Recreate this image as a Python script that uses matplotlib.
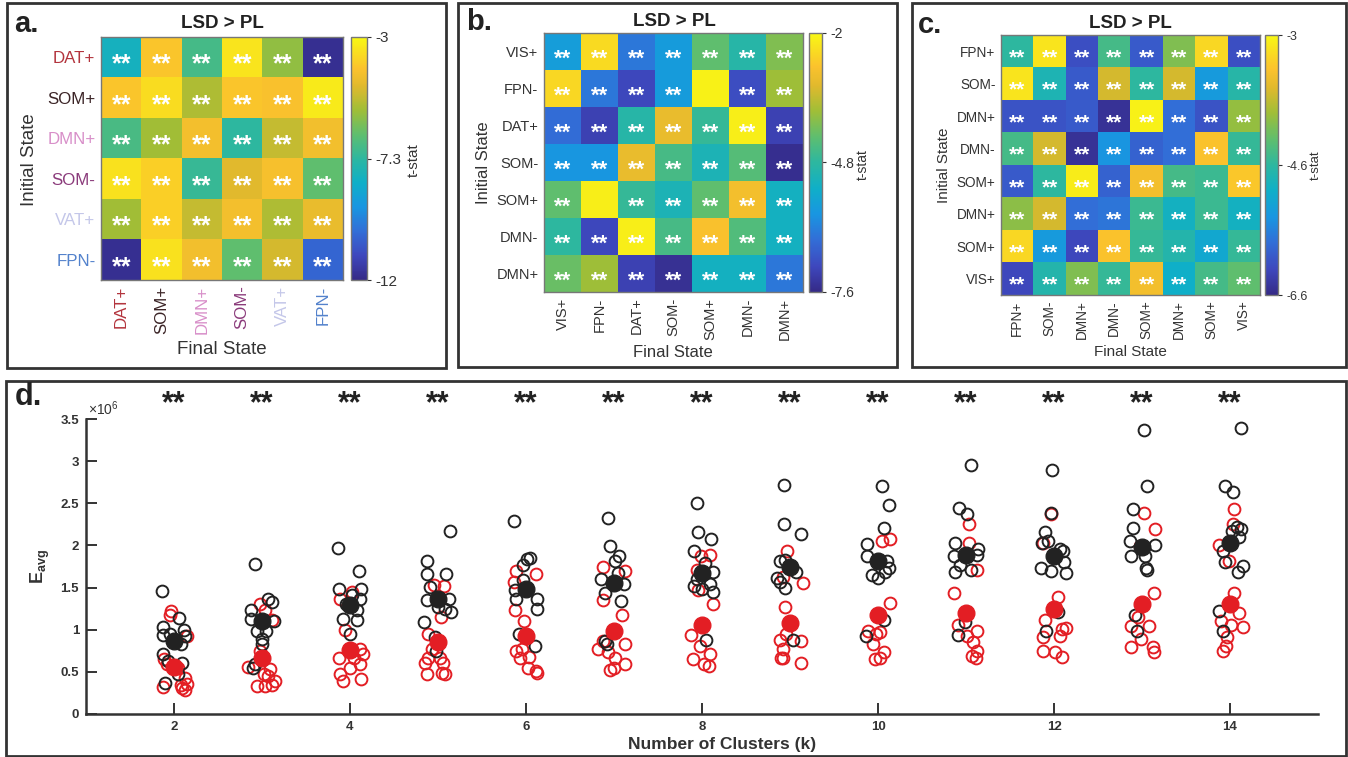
import matplotlib
matplotlib.use('Agg')
import matplotlib.pyplot as plt
import numpy as np
from matplotlib.colors import LinearSegmentedColormap
from matplotlib.patches import Rectangle
from matplotlib.transforms import blended_transform_factory

W, H = 1348, 757
plt.rcParams['font.family'] = ['Liberation Sans', 'DejaVu Sans']
plt.rcParams['mathtext.fontset'] = 'custom'
plt.rcParams['mathtext.rm'] = 'Liberation Sans'
plt.rcParams['mathtext.bf'] = 'Liberation Sans:bold'

# parula-like map, matched to the colours seen in the figure
parula_stops = [0.0, 0.1, 0.2, 0.3, 0.4, 0.5, 0.6, 0.7, 0.8, 0.87, 1.0]
parula_rgb = ['#352a87', '#3e48be', '#326ed7', '#1996e1', '#0fafc8', '#2db7a0',
              '#5fbe6e', '#a0be37', '#e1b92d', '#fbc22d', '#f8f814']
parula = LinearSegmentedColormap.from_list('parula', list(zip(parula_stops, parula_rgb)))

# ---- panel a ----
a_labels = ['DAT+', 'SOM+', 'DMN+', 'SOM-', 'VAT+', 'FPN-']
a_label_colors = ['#b3343d', '#3b2426', '#d88fc9', '#8b3b7b', '#c4c7e9', '#5382cc']
a_tstat = [
    [-8.2, -4.1, -7.05, -3.45, -5.9, -11.8],
    [-4.1, -3.6, -5.5, -4.1, -4.2, -3.3],
    [-7.0, -5.7, -4.35, -7.5, -5.2, -4.4],
    [-3.5, -3.9, -7.3, -4.8, -4.3, -6.6],
    [-5.7, -3.9, -5.2, -4.35, -5.5, -4.6],
    [-11.8, -3.5, -4.4, -6.6, -5.0, -10.4],
]
a_cbar_labels = ['-12', '-7.3', '-3']

# ---- panel b ----
b_labels = ['VIS+', 'FPN-', 'DAT+', 'SOM-', 'SOM+', 'DMN-', 'DMN+']
b_tstat = [
    [-5.75, -2.4, -6.35, -5.8, -4.25, -4.9, -3.95],
    [-2.45, -6.35, -7.05, -5.8, -2.1, -6.95, -3.7],
    [-6.5, -7.15, -4.9, -3.0, -4.7, -2.15, -7.15],
    [-5.9, -5.9, -3.0, -4.5, -5.1, -4.35, -7.5],
    [-4.25, -2.15, -4.7, -5.1, -4.25, -2.85, -5.25],
    [-4.8, -7.05, -2.15, -4.5, -2.75, -4.4, -5.25],
    [-4.15, -3.7, -7.15, -7.45, -5.25, -5.25, -6.35],
]
b_nostar = [(1, 4), (4, 1)]
b_cbar_labels = ['-7.6', '-4.8', '-2']

# ---- panel c ----
c_labels = ['FPN+', 'SOM-', 'DMN+', 'DMN-', 'SOM+', 'DMN+', 'SOM+', 'VIS+']
c_tstat = [
    [-4.8, -3.18, -6.17, -4.62, -6.06, -4.26, -3.29, -6.17],
    [-3.18, -4.98, -6.06, -3.79, -4.8, -3.79, -5.45, -4.87],
    [-6.13, -6.13, -6.06, -6.49, -3.07, -5.88, -6.13, -4.15],
    [-4.62, -3.79, -6.49, -5.52, -5.99, -5.88, -3.47, -4.73],
    [-6.06, -4.8, -3.11, -5.99, -3.54, -4.62, -4.69, -3.43],
    [-4.19, -3.79, -5.88, -5.81, -4.69, -5.09, -4.69, -5.09],
    [-3.29, -5.45, -6.24, -3.47, -4.73, -4.91, -5.27, -4.73],
    [-6.24, -4.91, -4.26, -4.73, -3.54, -5.16, -4.62, -4.44],
]
c_cbar_labels = ['-6.6', '-4.6', '-3']

# ---- panel d (values in units of 1e6) ----
k_values = [2, 3, 4, 5, 6, 7, 8, 9, 10, 11, 12, 13, 14]
black_y = [
    [1.46, 1.14, 1.03, 0.94, 1.00, 0.93, 0.83, 0.71, 0.63, 0.61, 0.47, 0.37, 0.95],
    [1.78, 1.36, 1.33, 1.23, 1.13, 1.10, 0.99, 0.98, 0.89, 0.83, 0.59, 0.55],
    [1.97, 1.70, 1.48, 1.48, 1.37, 1.41, 1.13, 1.11, 0.95, 1.23, 1.31],
    [2.17, 1.82, 1.66, 1.66, 1.51, 1.35, 1.36, 1.25, 1.21, 1.09, 0.91, 0.75, 1.27],
    [2.29, 1.84, 1.85, 1.77, 1.59, 1.47, 1.36, 1.36, 1.24, 0.95, 0.81],
    [2.32, 1.99, 1.87, 1.81, 1.67, 1.60, 1.54, 1.43, 1.34, 0.87, 0.83],
    [2.50, 2.16, 2.08, 1.93, 1.79, 1.68, 1.54, 1.52, 1.48, 1.45, 0.88, 1.60],
    [2.72, 2.25, 2.14, 1.82, 1.83, 1.68, 1.61, 1.57, 1.50, 0.88],
    [2.70, 2.48, 2.21, 2.02, 1.87, 1.82, 1.73, 1.65, 1.61, 1.69, 1.12, 0.93],
    [2.96, 2.45, 2.37, 2.03, 1.96, 1.88, 1.89, 1.77, 1.69, 1.71, 1.09, 0.94],
    [2.89, 2.38, 2.16, 2.03, 2.05, 1.96, 1.93, 1.73, 1.70, 1.80, 1.67, 1.21, 0.98],
    [3.37, 2.70, 2.43, 2.21, 2.05, 2.00, 1.88, 1.87, 1.73, 1.71, 1.17, 0.99],
    [3.39, 2.71, 2.63, 2.22, 2.19, 2.17, 2.10, 1.93, 1.80, 1.76, 1.68, 1.22, 0.99],
]
black_dx = [
    [-0.14, 0.06, -0.13, -0.12, 0.11, 0.12, 0.08, -0.13, -0.07, 0.09, 0.04, -0.10, -0.04],
    [-0.08, 0.07, 0.11, -0.12, -0.12, 0.14, -0.06, 0.05, 0.00, 0.00, -0.08, -0.10],
    [-0.14, 0.10, -0.13, 0.13, 0.11, 0.02, -0.08, 0.08, 0.00, 0.08, -0.04],
    [0.14, -0.13, -0.12, 0.09, -0.09, -0.13, 0.12, 0.08, 0.15, -0.16, -0.03, -0.02, 0.00],
    [-0.14, 0.01, 0.05, -0.03, -0.03, -0.12, -0.11, 0.13, 0.12, -0.08, 0.10],
    [-0.07, -0.05, 0.06, 0.01, 0.04, -0.15, 0.11, -0.10, 0.08, -0.10, -0.08],
    [-0.06, -0.04, 0.10, -0.09, 0.03, 0.12, 0.09, -0.09, 0.00, 0.13, 0.05, -0.06],
    [-0.07, -0.07, 0.13, -0.11, -0.06, 0.07, -0.15, -0.11, -0.06, 0.03],
    [0.05, 0.12, 0.07, -0.12, -0.13, 0.10, 0.13, -0.07, 0.00, 0.08, 0.07, -0.14],
    [0.06, -0.08, 0.01, -0.13, 0.14, -0.14, 0.12, -0.07, -0.13, 0.06, -0.01, -0.09],
    [-0.02, -0.03, -0.10, -0.14, -0.07, 0.07, 0.10, -0.15, -0.03, 0.11, 0.14, 0.04, -0.09],
    [0.02, 0.06, -0.10, -0.10, -0.14, 0.15, -0.12, 0.03, 0.04, 0.06, -0.08, -0.06],
    [0.12, -0.06, 0.03, 0.08, 0.13, 0.02, 0.10, -0.08, -0.06, 0.15, 0.09, -0.13, -0.08],
]
red_y = [
    [1.22, 1.17, 0.93, 0.65, 0.59, 0.43, 0.36, 0.28, 0.32, 0.35, 0.55, 0.31],
    [1.31, 1.23, 1.11, 0.75, 0.56, 0.53, 0.45, 0.33, 0.33, 0.35, 0.39, 0.47],
    [1.36, 1.45, 1.00, 0.77, 0.67, 0.55, 0.59, 0.47, 0.39, 0.41, 0.67, 0.71],
    [1.52, 1.53, 1.15, 0.95, 0.77, 0.61, 0.67, 0.67, 0.61, 0.47, 0.47, 0.49],
    [1.70, 1.66, 1.57, 1.23, 1.10, 0.75, 0.67, 0.68, 0.55, 0.51, 0.49, 0.77],
    [1.74, 1.70, 1.35, 1.17, 0.87, 0.83, 0.73, 0.67, 0.59, 0.52, 0.55, 0.77],
    [1.89, 1.87, 1.71, 1.30, 0.94, 0.81, 0.71, 0.65, 0.59, 0.57, 1.47],
    [1.93, 1.63, 1.55, 1.27, 0.88, 0.87, 0.77, 0.66, 0.67, 0.61, 0.95],
    [2.05, 2.08, 1.32, 0.95, 0.97, 0.83, 0.73, 0.65, 0.67, 0.99],
    [2.26, 2.03, 1.71, 1.44, 1.06, 0.99, 0.85, 0.75, 0.69, 0.67, 0.93],
    [2.37, 2.03, 1.39, 1.11, 1.01, 1.02, 0.91, 0.93, 0.75, 0.73, 0.68],
    [2.39, 2.19, 1.44, 1.05, 1.15, 1.04, 0.89, 0.79, 0.79, 0.73, 1.99],
    [2.43, 2.26, 2.00, 1.82, 1.44, 1.20, 1.10, 1.03, 1.06, 0.91, 0.81, 0.75],
]
red_dx = [
    [-0.03, -0.05, 0.15, -0.11, -0.08, 0.13, 0.15, 0.13, -0.12, 0.08, 0.04, 0.09],
    [-0.02, 0.03, 0.11, -0.02, -0.16, 0.09, 0.07, -0.06, 0.03, 0.11, 0.15, 0.02],
    [-0.11, 0.02, -0.06, 0.11, -0.12, 0.00, 0.11, -0.11, -0.08, 0.13, 0.04, 0.15],
    [0.07, -0.05, 0.03, -0.11, -0.07, -0.15, -0.11, 0.02, 0.06, -0.12, 0.08, 0.04],
    [-0.11, 0.11, -0.14, -0.12, -0.02, -0.11, -0.07, 0.03, 0.02, 0.11, 0.12, -0.05],
    [-0.13, 0.13, -0.12, 0.09, -0.12, 0.12, -0.07, 0.01, 0.13, -0.05, 0.00, -0.18],
    [0.09, -0.01, -0.06, 0.13, -0.13, -0.02, 0.09, -0.10, 0.02, 0.08, -0.04],
    [-0.03, -0.08, 0.15, -0.06, -0.11, 0.12, -0.08, -0.08, -0.10, 0.12, -0.04],
    [0.05, 0.14, 0.14, -0.02, 0.02, -0.06, 0.07, -0.03, 0.02, -0.11],
    [0.03, 0.03, 0.12, -0.14, -0.09, 0.12, 0.08, 0.12, 0.07, 0.11, 0.01],
    [-0.03, -0.13, 0.04, -0.10, 0.09, 0.14, -0.12, 0.07, -0.12, 0.01, 0.09],
    [0.02, 0.15, 0.14, -0.12, -0.04, 0.08, -0.01, -0.12, 0.13, 0.14, -0.02],
    [0.04, 0.03, -0.13, -0.01, 0.05, 0.10, -0.10, 0.15, 0.01, -0.03, -0.04, -0.08],
]
black_mean = [0.87, 1.10, 1.29, 1.37, 1.48, 1.55, 1.67, 1.75, 1.81, 1.89, 1.88, 1.98, 2.03]
red_mean = [0.56, 0.66, 0.76, 0.85, 0.93, 0.98, 1.06, 1.08, 1.17, 1.20, 1.24, 1.30, 1.31]

fig = plt.figure(figsize=(W / 100, H / 100), dpi=100)


def px_axes(x0, y0, x1, y1):
    return fig.add_axes([x0 / W, 1 - y1 / H, (x1 - x0) / W, (y1 - y0) / H])


def ftext(x, y, s, **kw):
    kw.setdefault('ha', 'center')
    kw.setdefault('va', 'center')
    fig.text(x / W, 1 - y / H, s, **kw)


def frame(x0, y0, x1, y1):
    fig.patches.append(Rectangle((x0 / W, 1 - y1 / H), (x1 - x0) / W, (y1 - y0) / H,
                                 transform=fig.transFigure, fill=False,
                                 ec='#333333', lw=2))


def heatmap(box, cbox, vals, labels, cbar_labels, fs_tick, fs_star, fs_cbar,
            label_colors=None, nostar=()):
    ax = px_axes(*box)
    data = np.array(vals)
    n = len(labels)
    vmin = float(cbar_labels[0])
    vmax = float(cbar_labels[-1])
    im = ax.imshow(data, cmap=parula, vmin=vmin, vmax=vmax, aspect='auto')
    cell_px = (box[3] - box[1]) / n
    dy = 0.58 * fs_star * 100 / 72 / cell_px
    for i in range(n):
        for j in range(n):
            if (i, j) in nostar:
                continue
            ax.text(j, i + dy, '**', color='white', ha='center', va='baseline',
                    fontsize=fs_star, fontweight='bold')
    ax.set_xticks(range(n))
    ax.set_yticks(range(n))
    ax.set_xticklabels(labels, rotation=90, fontsize=fs_tick, color='#333333')
    ax.set_yticklabels(labels, fontsize=fs_tick, color='#333333')
    ax.tick_params(length=0, pad=4)
    if label_colors:
        for t, c in zip(ax.get_xticklabels(), label_colors):
            t.set_color(c)
        for t, c in zip(ax.get_yticklabels(), label_colors):
            t.set_color(c)
    for sp in ax.spines.values():
        sp.set_color('#777777')
        sp.set_linewidth(1)
    cax = px_axes(*cbox)
    cb = fig.colorbar(im, cax=cax)
    cb.set_ticks([vmin, (vmin + vmax) / 2, vmax])
    cb.set_ticklabels(cbar_labels)
    cax.tick_params(labelsize=fs_cbar, length=3, color='#333333',
                    labelcolor='#333333', pad=3)
    cb.outline.set_edgecolor('#777777')
    cb.outline.set_linewidth(1)
    return ax


# panel a
frame(7, 3, 446, 368)
heatmap((101, 37, 343, 280), (351, 37, 367, 280), a_tstat, a_labels, a_cbar_labels,
        12.2, 18, 11, label_colors=a_label_colors)
ftext(222, 24, 'LSD > PL', fontsize=13.5, fontweight='bold', color='#222222')
ftext(222, 349, 'Final State', fontsize=13.5, color='#333333')
ftext(30, 160, 'Initial State', fontsize=13.5, rotation=90, color='#333333')
ftext(414, 160, 't-stat', fontsize=11, rotation=90, color='#333333')
ftext(14, 24, 'a.', fontsize=21, fontweight='bold', ha='left', color='#222222')

# panel b
frame(458, 3, 897, 367)
heatmap((544, 33, 803, 292), (809, 33, 822, 292), b_tstat, b_labels, b_cbar_labels,
        10.5, 16, 10, nostar=b_nostar)
ftext(674, 21, 'LSD > PL', fontsize=13.5, fontweight='bold', color='#222222')
ftext(673, 352, 'Final State', fontsize=12, color='#333333')
ftext(483, 163, 'Initial State', fontsize=12, rotation=90, color='#333333')
ftext(863, 165, 't-stat', fontsize=10, rotation=90, color='#333333')
ftext(466, 22, 'b.', fontsize=21, fontweight='bold', ha='left', color='#222222')

# panel c
frame(912, 3, 1346, 367)
heatmap((1001, 35, 1260, 295), (1265, 35, 1278, 295), c_tstat, c_labels, c_cbar_labels,
        9.8, 15, 9)
ftext(1130, 24, 'LSD > PL', fontsize=13.5, fontweight='bold', color='#222222')
ftext(1130, 352, 'Final State', fontsize=11, color='#333333')
ftext(944, 165, 'Initial State', fontsize=11, rotation=90, color='#333333')
ftext(1316, 165, 't-stat', fontsize=9.5, rotation=90, color='#333333')
ftext(918, 25, 'c.', fontsize=21, fontweight='bold', ha='left', color='#222222')

# panel d
frame(6, 381, 1346, 756)
ax = px_axes(86, 419, 1318, 714)
red = '#e31e24'
blk = '#222222'
for i, k in enumerate(k_values):
    ax.plot(k + np.array(red_dx[i]), red_y[i], 'o', mfc='none', mec=red, ms=8.5, mew=1.4)
    ax.plot(k + np.array(black_dx[i]), black_y[i], 'o', mfc='none', mec=blk, ms=8.5, mew=1.4)
ax.plot(k_values, black_mean, 'o', color=blk, ms=12, ls='none')
ax.plot(k_values, red_mean, 'o', color=red, ms=12, ls='none')
ax.set_xlim(1, 15)
ax.set_ylim(0, 3.5)
ax.set_xticks([2, 4, 6, 8, 10, 12, 14])
ax.set_yticks([0, 0.5, 1, 1.5, 2, 2.5, 3, 3.5])
ax.set_yticklabels(['0', '0.5', '1', '1.5', '2', '2.5', '3', '3.5'])
ax.spines['top'].set_visible(False)
ax.spines['right'].set_visible(False)
for s in ['left', 'bottom']:
    ax.spines[s].set_linewidth(1.8)
    ax.spines[s].set_color('#333333')
ax.tick_params(direction='in', length=8, width=1.4, color='#333333',
               labelsize=9.5, labelcolor='#333333', pad=5)
for t in ax.get_xticklabels() + ax.get_yticklabels():
    t.set_fontweight('bold')
trans = blended_transform_factory(ax.transData, ax.transAxes)
for k in k_values:
    ax.text(k, 1.024, '**', transform=trans, ha='center', va='baseline',
            fontsize=22, fontweight='bold', color='#222222', clip_on=False)
ax.text(0.002, 1.005, r'$\times$10$^6$', transform=ax.transAxes, ha='left', va='bottom',
        fontsize=10, color='#333333')
ftext(722, 744, 'Number of Clusters (k)', fontsize=12.5, fontweight='bold', color='#333333')
ftext(40, 566, r'$\mathbf{E_{avg}}$', fontsize=13, rotation=90, color='#333333')
ftext(15, 397, 'd.', fontsize=22, fontweight='bold', ha='left', color='#222222')

fig.savefig('out.png', dpi=100)
